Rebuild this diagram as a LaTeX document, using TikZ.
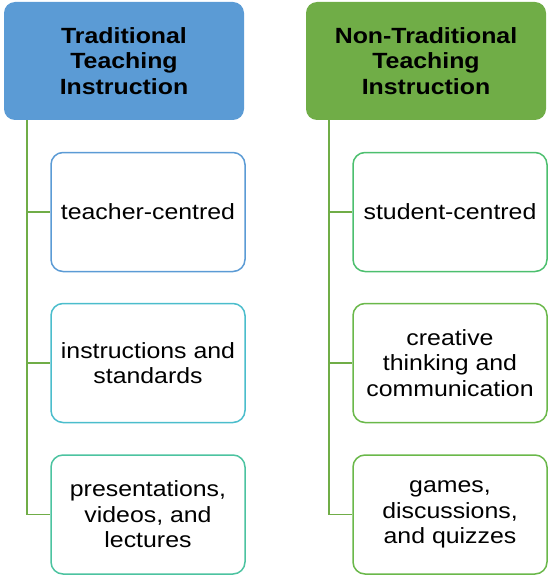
\documentclass[tikz,border=0pt]{standalone}
\usepackage{fontspec}
\setmainfont{Liberation Sans}[FakeStretch=1.13]
\definecolor{hblue}{HTML}{5B9BD5}
\definecolor{hgreen}{HTML}{70AD47}
\definecolor{bteal}{HTML}{4BBDCC}
\definecolor{bmint}{HTML}{4CC3A0}
\definecolor{bgreenA}{HTML}{4CBF6E}
\definecolor{bgreenB}{HTML}{6AB84A}
\begin{document}
\begin{tikzpicture}[x=1pt,y=-1pt,
  header/.style={rounded corners=11pt, minimum width=240pt, minimum height=118pt,
    inner sep=0pt, align=center, font=\fontsize{22}{25.5}\selectfont\bfseries, text=black},
  child/.style={draw, line width=1.5pt, fill=white, rounded corners=12pt,
    minimum width=194pt, minimum height=119pt, inner sep=0pt, align=center,
    font=\fontsize{22}{25.5}\selectfont, text=black},
  conn/.style={draw=hgreen, line width=1.8pt}]
\useasboundingbox (0,0) rectangle (551,575);
% left column
\node[header, fill=hblue] (h1) at (124,61) {Traditional\\Teaching\\Instruction};
\node[child, draw=hblue] (c11) at (148,212) {teacher-centred};
\node[child, draw=bteal] (c12) at (148,363) {instructions and\\standards};
\node[child, draw=bmint] (c13) at (148,514.5) {presentations,\\videos, and\\lectures};
% right column
\node[header, fill=hgreen] (h2) at (426,61) {Non-Traditional\\Teaching\\Instruction};
\node[child, draw=bgreenA] (c21) at (450,212) {student-centred};
\node[child, draw=bgreenB] (c22) at (450,363) {creative\\thinking and\\communication};
\node[child, draw=bgreenB] (c23) at (450,514.5) {games,\\discussions,\\and quizzes};
% connectors
\coordinate (t1) at (27,120);
\coordinate (t2) at (329,120);
\draw[conn] (t1) |- (c13.west);
\draw[conn] (t1 |- c11.west) -- (c11.west);
\draw[conn] (t1 |- c12.west) -- (c12.west);
\draw[conn] (t2) |- (c23.west);
\draw[conn] (t2 |- c21.west) -- (c21.west);
\draw[conn] (t2 |- c22.west) -- (c22.west);
\end{tikzpicture}
\end{document}
